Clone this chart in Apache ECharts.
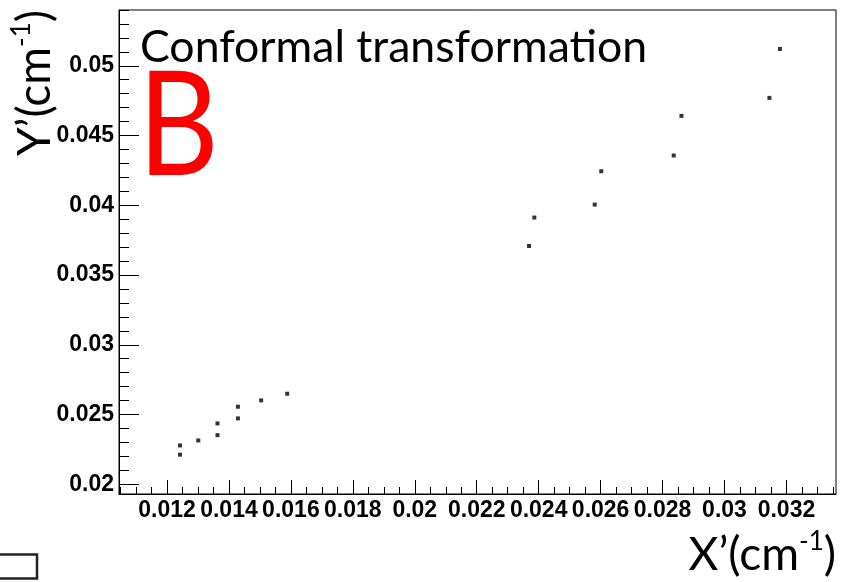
<!DOCTYPE html>
<html>
<head>
<meta charset="utf-8">
<script src="https://cdn.jsdelivr.net/npm/echarts@6/dist/echarts.min.js"></script>
<style>
html,body{margin:0;padding:0;background:#fff;}
#chart{width:845px;height:582px;}
</style>
</head>
<body>
<div id="chart"></div>
<script>
// Data (X' and Y' in cm^-1)
var xValues = [0.01242, 0.01242, 0.01301, 0.01363, 0.01363, 0.01429, 0.01429, 0.01504, 0.01588,
               0.02369, 0.02386, 0.02581, 0.02602, 0.02836, 0.02861, 0.03145, 0.03179];
var yValues = [0.02278, 0.02212, 0.02314, 0.02436, 0.02352, 0.02556, 0.02472, 0.02601, 0.02649,
               0.03708, 0.03912, 0.04005, 0.04244, 0.04357, 0.04641, 0.04770, 0.05121];

// Axis ticks
var xMajorTicks = [0.012, 0.014, 0.016, 0.018, 0.020, 0.022, 0.024, 0.026, 0.028, 0.030, 0.032];
var xTickLabels = ['0.012', '0.014', '0.016', '0.018', '0.02', '0.022', '0.024', '0.026', '0.028', '0.03', '0.032'];
var yMajorTicks = [0.020, 0.025, 0.030, 0.035, 0.040, 0.045, 0.050];
var yTickLabels = ['0.02', '0.025', '0.03', '0.035', '0.04', '0.045', '0.05'];

var xRange = [0.01045, 0.0336];
var yRange = [0.0193, 0.0540];

var titleText = 'Conformal transformation';
var panelLetter = 'B';

function minorTicks(range, step, majors) {
  var out = [];
  var start = Math.ceil(range[0] / step - 1e-9);
  var end = Math.floor(range[1] / step + 1e-9);
  for (var i = start; i <= end; i++) {
    var v = +(i * step).toFixed(6);
    var isMajor = majors.some(function (m) { return Math.abs(m - v) < 1e-9; });
    if (!isMajor) out.push(v);
  }
  return out;
}
var xMinorTicks = minorTicks(xRange, 0.0005, xMajorTicks);
var yMinorTicks = minorTicks(yRange, 0.001, yMajorTicks);

function labelFor(values, labels) {
  return function (v) {
    for (var i = 0; i < values.length; i++) {
      if (Math.abs(values[i] - v) < 1e-9) return labels[i];
    }
    return '';
  };
}

var points = xValues.map(function (x, i) { return [x, yValues[i]]; });

var titleFamily = 'Lato';
var tickFamily = 'Liberation Sans';

var chart = echarts.init(document.getElementById('chart'), null, { renderer: 'canvas' });
chart.setOption({
  animation: false,
  backgroundColor: '#fff',
  grid: {
    left: 119, right: 9, top: 10, bottom: 88,
    show: true, borderColor: '#000', borderWidth: 1, backgroundColor: 'transparent'
  },
  xAxis: [{
    type: 'value', min: xRange[0], max: xRange[1], position: 'bottom',
    axisLine: { show: true, onZero: false, lineStyle: { color: '#000', width: 1 } },
    axisTick: { show: true, inside: true, length: 14, customValues: xMajorTicks, lineStyle: { color: '#000', width: 1 } },
    axisLabel: { show: true, margin: 5, fontSize: 23, fontFamily: tickFamily, fontWeight: 'bold', color: '#000',
      hideOverlap: false, customValues: xMajorTicks, formatter: labelFor(xMajorTicks, xTickLabels) },
    splitLine: { show: false }
  }, {
    type: 'value', min: xRange[0], max: xRange[1], position: 'bottom', gridIndex: 0,
    axisLine: { show: false, onZero: false },
    axisTick: { show: true, inside: true, length: 7, customValues: xMinorTicks, lineStyle: { color: '#000', width: 1 } },
    axisLabel: { show: false },
    splitLine: { show: false }
  }],
  yAxis: [{
    type: 'value', min: yRange[0], max: yRange[1], position: 'left',
    axisLine: { show: true, onZero: false, lineStyle: { color: '#000', width: 1 } },
    axisTick: { show: true, inside: true, length: 20, customValues: yMajorTicks, lineStyle: { color: '#000', width: 1 } },
    axisLabel: { show: true, margin: 5, fontSize: 23, fontFamily: tickFamily, fontWeight: 'bold', color: '#000',
      hideOverlap: false, customValues: yMajorTicks, formatter: labelFor(yMajorTicks, yTickLabels) },
    splitLine: { show: false }
  }, {
    type: 'value', min: yRange[0], max: yRange[1], position: 'left', gridIndex: 0,
    axisLine: { show: false, onZero: false },
    axisTick: { show: true, inside: true, length: 10, customValues: yMinorTicks, lineStyle: { color: '#000', width: 1 } },
    axisLabel: { show: false },
    splitLine: { show: false }
  }],
  series: [{
    type: 'scatter',
    xAxisIndex: 0, yAxisIndex: 0,
    data: points,
    symbol: 'rect',
    symbolSize: 4,
    itemStyle: { color: '#000' },
    silent: true
  }],
  graphic: [
    {
      type: 'text', x: 140, y: 48,
      style: { text: titleText, fontFamily: titleFamily, fontSize: 44.6, fill: '#000',
               align: 'left', verticalAlign: 'middle' }
    },
    {
      type: 'text', x: 138, y: 128, scaleX: 0.92, scaleY: 1.07,
      style: { text: panelLetter, fontFamily: titleFamily, fontSize: 136, fill: '#ff0000',
               align: 'left', verticalAlign: 'middle' }
    },
    {
      type: 'text', x: 35, y: 83, rotation: Math.PI / 2,
      style: {
        text: '{n|Y’(cm}{s|-1}{n|)}', align: 'center', verticalAlign: 'middle',
        rich: {
          n: { fontFamily: titleFamily, fontSize: 46, lineHeight: 52, fill: '#000' },
          s: { fontFamily: titleFamily, fontSize: 26, lineHeight: 30, fill: '#000', verticalAlign: 'top' }
        }
      }
    },
    {
      type: 'text', x: 836, y: 555,
      style: {
        text: '{n|X’(cm}{s|-1}{n|)}', align: 'right', verticalAlign: 'middle',
        rich: {
          n: { fontFamily: titleFamily, fontSize: 46, lineHeight: 52, fill: '#000' },
          s: { fontFamily: titleFamily, fontSize: 26, lineHeight: 30, fill: '#000', verticalAlign: 'top' }
        }
      }
    },
    {
      type: 'rect', shape: { x: -5, y: 554.5, width: 42, height: 24 },
      style: { fill: 'none', stroke: '#222', lineWidth: 2.5 }
    }
  ]
});
</script>
</body>
</html>
